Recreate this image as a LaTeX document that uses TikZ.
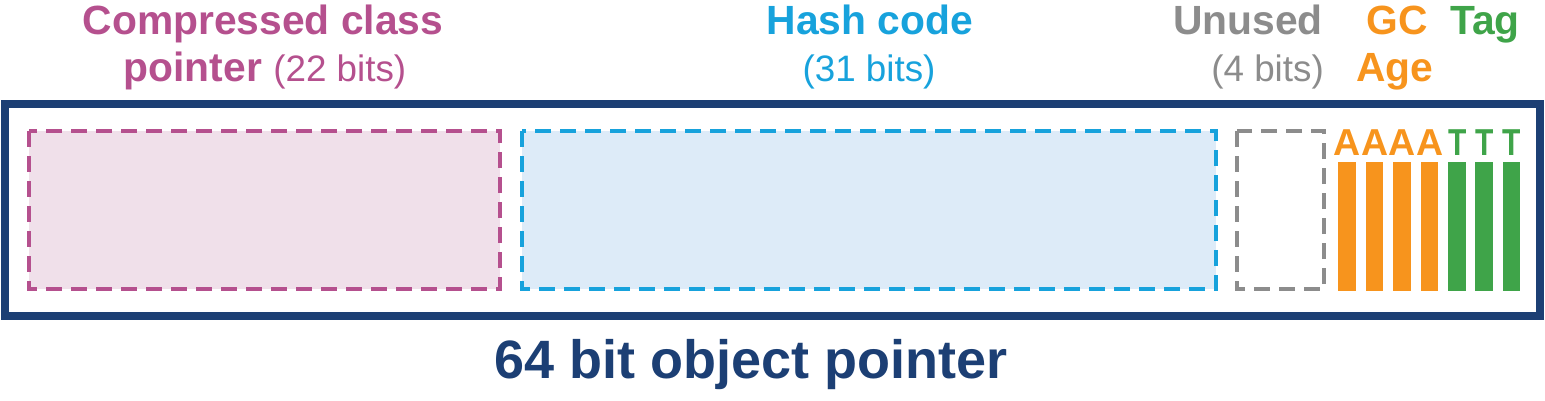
\documentclass[tikz,border=0pt]{standalone}
\usepackage{fontspec}
\setmainfont{Liberation Sans}
\definecolor{navy}{HTML}{1C3F74}
\definecolor{mag}{HTML}{B5508E}
\definecolor{magfill}{HTML}{F0E0EA}
\definecolor{hblue}{HTML}{17A2DC}
\definecolor{bluefill}{HTML}{DDEBF8}
\definecolor{ugrey}{HTML}{8C8C8C}
\definecolor{gcorange}{HTML}{F7941D}
\definecolor{taggreen}{HTML}{3FA449}
\tikzset{
  lbl/.style={anchor=base, inner sep=0pt, font=\fontsize{40.8}{48}\selectfont\bfseries},
  sub/.style={anchor=base, inner sep=0pt, font=\fontsize{36.8}{44}\selectfont},
  field/.style={line width=4.5pt, dash pattern=on 16pt off 9pt},
  bitletter/.style={anchor=base, inner sep=0pt, font=\fontsize{37.5}{44}\selectfont\bfseries},
  gcbar/.style={fill=gcorange, draw=none},
  tagbar/.style={fill=taggreen, draw=none}
}
\begin{document}
\begin{tikzpicture}[x=1pt,y=-1pt]
\useasboundingbox (0,0) rectangle (1545,400);
% outer frame
\draw[navy, line width=8pt] (5,104) rectangle (1540,316);
\node[lbl, navy, font=\fontsize{54}{60}\selectfont\bfseries] (title) at (751,378) {64 bit object pointer};
% fields
\draw[field, mag, fill=magfill] (29,131) rectangle (500,289);
\draw[field, hblue, fill=bluefill] (522,131) rectangle (1216,289);
\draw[field, ugrey] (1237,131) rectangle (1324,289);
% labels
\node[lbl, mag] (ccp1) at (263,34) {Compressed class};
\node[lbl, mag] (ccp2) at (265,81) {pointer \fontsize{36.8}{44}\selectfont\mdseries(22 bits)};
\node[lbl, hblue] (hc1) at (870,34) {Hash code};
\node[sub, hblue] (hc2) at (869,81) {(31 bits)};
\node[lbl, ugrey, anchor=base east] (un1) at (1323,34) {Unused};
\node[sub, ugrey, anchor=base east] (un2) at (1324,81) {(4 bits)};
\node[lbl, gcorange] (gc1) at (1397,34) {GC};
\node[lbl, gcorange] (gc2) at (1395,81) {Age};
\node[lbl, taggreen] (tag) at (1485,34) {Tag};
% bars
\foreach \x [count=\i] in {1338.3,1365.7,1393.3,1420.7} {
  \fill[gcbar] (\x,162) rectangle ++(17.7,129);
  \node[bitletter, gcorange] (a\i) at (\x+8.85,155) {A};
}
\foreach \x [count=\i] in {1448.3,1475.3,1502.7} {
  \fill[tagbar] (\x,162) rectangle ++(17.7,129);
  \node[bitletter, taggreen, xscale=0.8] (t\i) at (\x+8.85,155) {T};
}
\end{tikzpicture}
\end{document}
